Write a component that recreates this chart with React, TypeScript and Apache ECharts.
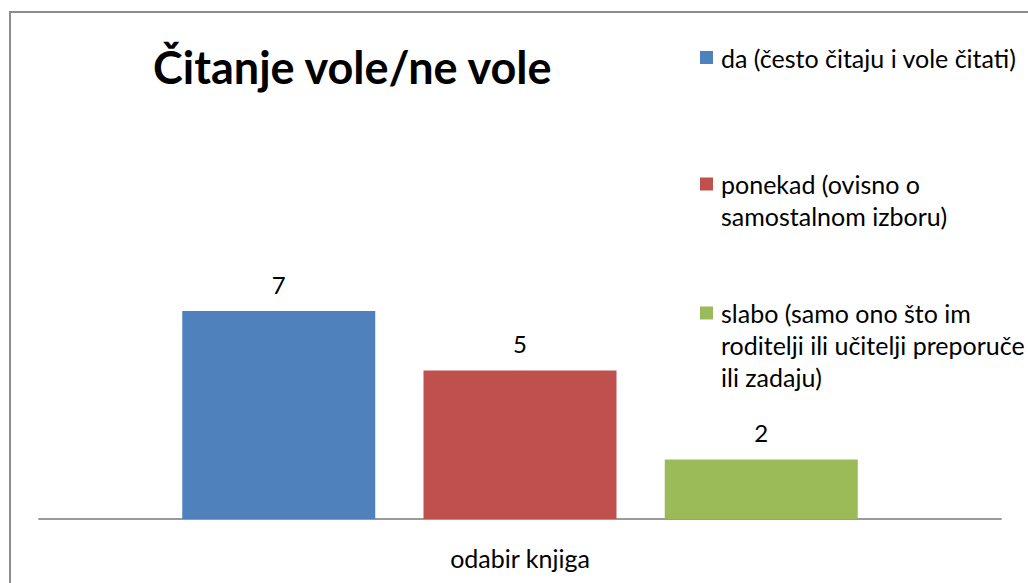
import React, { useEffect, useRef } from "react";
import * as echarts from "echarts";

const categories = ["odabir knjiga"];
const seriesNames = [
  "da (često čitaju i vole čitati)",
  "ponekad (ovisno o samostalnom izboru)",
  "slabo (samo ono što im roditelji ili učitelji preporuče ili zadaju)",
];
const legendLines = [
  ["da (često čitaju i vole čitati)"],
  ["ponekad (ovisno o", "samostalnom izboru)"],
  ["slabo (samo ono što im", "roditelji ili učitelji preporuče", "ili zadaju)"],
];
const values = [7, 5, 2];
const colors = ["#4F81BD", "#C0504D", "#9BBB59"];
const title = "Čitanje vole/ne vole";

const FONT = "Lato, 'Open Sans', sans-serif";

export default function App() {
  const ref = useRef<HTMLDivElement>(null);
  useEffect(() => {
    if (!ref.current) return;
    const chart = echarts.init(ref.current, undefined, { renderer: "svg" });
    const lineH = 32;
    const legendCenters = [57.5, 184, 313];
    chart.setOption({
      animation: false,
      backgroundColor: "#ffffff",
      title: {
        text: title,
        left: 153,
        top: 44,
        padding: 0,
        textStyle: { fontFamily: FONT, fontWeight: "bold", fontSize: 45, color: "#000" },
      },
      legend: seriesNames.map((name, i) => {
        const n = legendLines[i].length;
        return {
          data: [name],
          orient: "vertical",
          left: 700,
          top: legendCenters[i] - (n - 1) * lineH - lineH / 2,
          padding: 0,
          icon: "rect",
          itemWidth: 13,
          itemHeight: 13,
          selectedMode: false,
          formatter: () => {
            const pad = new Array(n - 1).fill("").join("\n");
            return (n > 1 ? pad + "\n" : "") + legendLines[i].join("\n");
          },
          textStyle: {
            fontFamily: FONT,
            fontSize: 25,
            lineHeight: lineH,
            color: "#000",
            padding: [0, 0, 0, 3],
          },
        };
      }),
      grid: { left: 39, width: 962, top: 222, height: 297, containLabel: false },
      xAxis: {
        type: "category",
        data: categories,
        axisLine: { lineStyle: { color: "#9a9a9a", width: 2 } },
        axisTick: { show: false },
        axisLabel: { margin: 26, fontFamily: FONT, fontSize: 25, color: "#000" },
      },
      yAxis: {
        type: "value",
        min: 0,
        max: 10,
        show: false,
        splitLine: { show: false },
      },
      series: seriesNames.map((name, i) => ({
        name,
        type: "bar",
        data: [values[i]],
        barWidth: 193,
        barGap: "25%",
        itemStyle: { color: colors[i] },
        label: {
          show: true,
          position: "top",
          distance: 15,
          fontFamily: FONT,
          fontSize: 24,
          color: "#000",
        },
      })),
      graphic: [
        {
          type: "rect",
          shape: { x: 10, y: 12, width: 1040, height: 600 },
          style: { fill: "none", stroke: "#8c8c8c", lineWidth: 2 },
          silent: true,
          z: 100,
        },
      ],
    });
    return () => chart.dispose();
  }, []);
  return (
    <div
      ref={ref}
      style={{ position: "fixed", left: 0, top: 0, width: 1028, height: 583 }}
    />
  );
}
